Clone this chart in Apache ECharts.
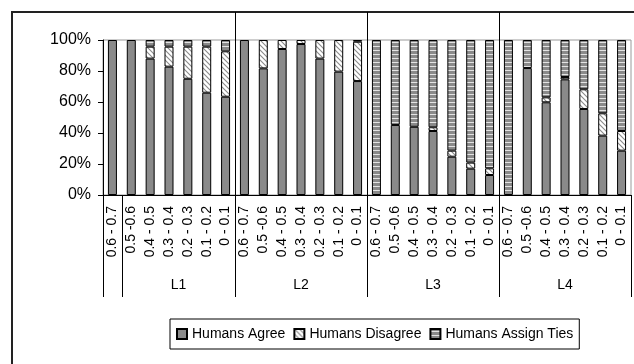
<!DOCTYPE html>
<html>
<head>
<meta charset="utf-8">
<script src="https://cdn.jsdelivr.net/npm/echarts@6/dist/echarts.min.js"></script>
<style>
  html, body { margin: 0; padding: 0; background: #fff; }
  #chart { width: 634px; height: 364px; }
</style>
</head>
<body>
<div id="chart"></div>
<script>
// 分组与区间
var groups = ['L1', 'L2', 'L3', 'L4'];
var ranges = ['0.6 - 0.7', '0.5 -0.6', '0.4 - 0.5', '0.3 - 0.4', '0.2 - 0.3', '0.1 - 0.2', '0 - 0.1'];
var yTicks = [0, 20, 40, 60, 80, 100];

// 各区间百分比 (L1..L4 依次)
var agree = [
  100, 100, 88, 82.8, 75, 66, 63.4,
  100, 81.7, 94.2, 97.4, 88, 79.6, 73.5,
  0, 45.2, 44, 41.3, 24.7, 17, 12.9,
  0, 81.9, 59.8, 74.6, 55.5, 38.3, 28.6
];
var disagree = [
  0, 0, 7.7, 12.9, 20.7, 29.7, 29.3,
  0, 18.3, 5.8, 2.6, 12, 20.4, 25.4,
  0, 0, 0, 2.4, 3.9, 3.9, 4.3,
  0, 0, 3.2, 1.5, 12.7, 14.4, 12.7
];
var ties = [
  0, 0, 4.3, 4.3, 4.3, 4.3, 7.3,
  0, 0, 0, 0, 0, 0, 1.1,
  100, 54.8, 56, 56.3, 71.4, 79.1, 82.8,
  100, 18.1, 37, 23.9, 31.8, 47.3, 58.7
];

var FONT = '"Liberation Sans", Arial, sans-serif';
var nPer = ranges.length;
var total = groups.length * nPer;

// x轴类目：每组重复区间
var cats = [];
groups.forEach(function () {
  ranges.forEach(function (r) { cats.push(r); });
});

// 组分隔线位置
var bounds = [];
for (var g = 1; g < groups.length; g++) bounds.push(g * nPer);
// Excel 的第一组从第二个柱子开始画
var groupTicks = [0, 1].concat(bounds, [total]);
var groupLabelPos = [(1 + nPer) / 2];
for (var g = 1; g < groups.length; g++) groupLabelPos.push(g * nPer + nPer / 2);

// 0 值不画(避免边框叠成粗线)
function noZero(arr) {
  return arr.map(function (v) { return v === 0 ? null : v; });
}

// 填充图案
function diagPattern() {
  var c = document.createElement('canvas');
  c.width = 5; c.height = 5;
  var ctx = c.getContext('2d');
  ctx.fillStyle = '#ffffff';
  ctx.fillRect(0, 0, 5, 5);
  ctx.strokeStyle = '#8a8a8a';
  ctx.lineWidth = 1.1;
  ctx.beginPath();
  ctx.moveTo(-1, -1); ctx.lineTo(6, 6);
  ctx.moveTo(-1, 4); ctx.lineTo(1, 6);
  ctx.moveTo(4, -1); ctx.lineTo(6, 1);
  ctx.stroke();
  return c;
}
function stripePattern() {
  var c = document.createElement('canvas');
  c.width = 4; c.height = 4;
  var ctx = c.getContext('2d');
  ctx.fillStyle = '#8a8a8a';
  ctx.fillRect(0, 0, 4, 4);
  ctx.fillStyle = '#e4e4e4';
  ctx.fillRect(0, 2, 4, 1);
  return c;
}

var chart = echarts.init(document.getElementById('chart'));
var option = {
  animation: false,
  backgroundColor: '#fff',
  textStyle: { fontFamily: FONT, color: '#000' },
  graphic: [{
    type: 'rect',
    shape: { x: 12, y: 12, width: 700, height: 500 },
    style: { fill: 'none', stroke: '#222', lineWidth: 2 },
    silent: true
  }],
  grid: {
    left: 103, top: 40, right: 3, bottom: 169,
    show: true, borderColor: '#9a9a9a', borderWidth: 1,
    outerBoundsMode: 'none'
  },
  legend: {
    left: 170, top: 319,
    itemWidth: 10, itemHeight: 10, itemGap: 8,
    padding: [8, 6],
    borderColor: '#000', borderWidth: 1,
    icon: 'rect',
    textStyle: { fontFamily: FONT, fontSize: 14, color: '#000' },
    data: ['Humans Agree', 'Humans Disagree', 'Humans Assign Ties']
  },
  xAxis: [{
    type: 'category',
    data: cats,
    position: 'bottom',
    axisLine: { lineStyle: { color: '#000' } },
    axisTick: { interval: 0, length: 70, lineStyle: { color: '#000' } },
    axisLabel: { interval: 0, rotate: 90, margin: 11, fontSize: 14, color: '#000', fontFamily: FONT }
  }, {
    // 组标签
    type: 'value',
    min: 0, max: total,
    position: 'bottom',
    axisLine: { show: false },
    splitLine: { show: false },
    axisTick: { show: true, customValues: groupTicks, length: 102, lineStyle: { color: '#000' } },
    axisLabel: {
      customValues: groupLabelPos, margin: 83, fontSize: 14, color: '#000', fontFamily: FONT,
      formatter: function (v) { return groups[Math.floor(v / nPer)]; }
    }
  }, {
    // 组分隔线(穿过绘图区并伸到顶部)
    type: 'value',
    min: 0, max: total,
    position: 'top',
    axisLine: { show: false },
    axisLabel: { show: false },
    axisTick: { show: true, customValues: bounds, length: 28, lineStyle: { color: '#000' } },
    splitLine: { show: true, lineStyle: { color: '#000', width: 1 } }
  }],
  yAxis: {
    type: 'value',
    min: 0, max: 100, interval: 20,
    axisLine: { show: true, lineStyle: { color: '#000' } },
    axisTick: { show: true, length: 5, lineStyle: { color: '#000' } },
    splitLine: { show: false },
    axisLabel: { formatter: '{value}%', fontSize: 16, margin: 12, color: '#000', fontFamily: FONT }
  },
  series: [{
    name: 'Humans Agree',
    type: 'bar',
    stack: 'all',
    barWidth: 9,
    itemStyle: { color: '#8a8a8a', borderColor: '#000', borderWidth: 1 },
    data: noZero(agree)
  }, {
    name: 'Humans Disagree',
    type: 'bar',
    stack: 'all',
    barWidth: 9,
    itemStyle: { color: { image: diagPattern(), repeat: 'repeat' }, borderColor: '#000', borderWidth: 1 },
    data: noZero(disagree)
  }, {
    name: 'Humans Assign Ties',
    type: 'bar',
    stack: 'all',
    barWidth: 9,
    itemStyle: { color: { image: stripePattern(), repeat: 'repeat' }, borderColor: '#000', borderWidth: 1 },
    data: noZero(ties)
  }]
};
chart.setOption(option);
</script>
</body>
</html>
